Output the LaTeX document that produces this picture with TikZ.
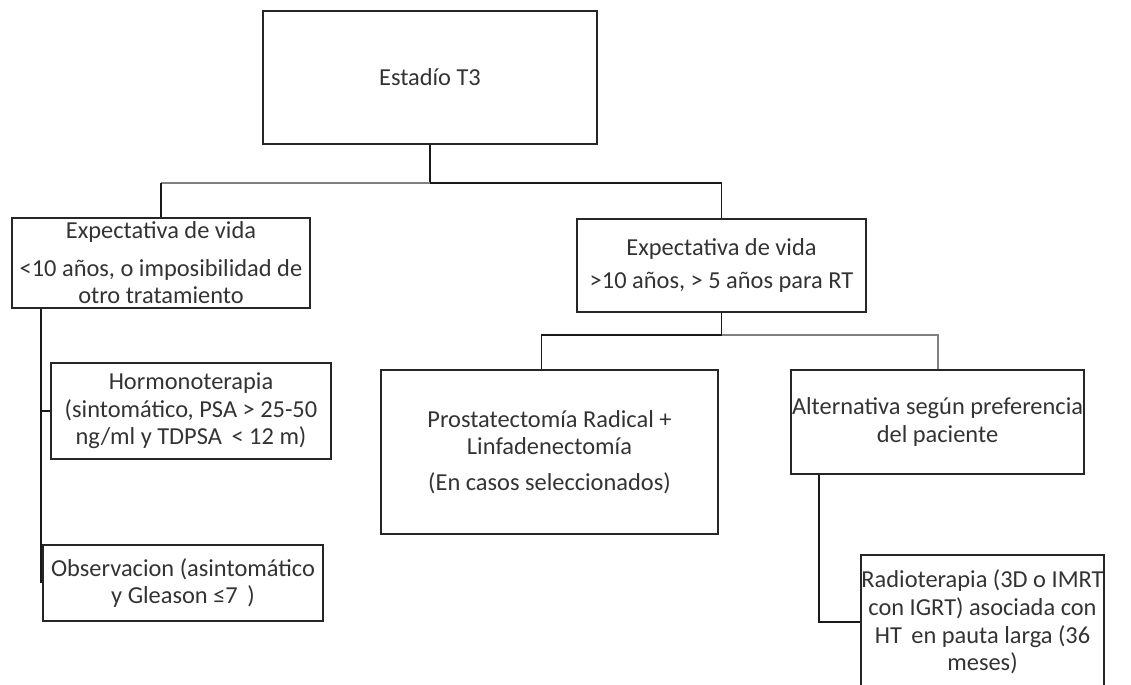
\documentclass[tikz,border=0pt]{standalone}
\usepackage{fontspec}
\setmainfont{Carlito}
\usepackage{tikz}
\tikzstyle{box}=[draw=black!85,line width=1pt,inner sep=0.5pt,align=center,text=black!80,font=\fontsize{12.2}{13.8}\selectfont]
\tikzstyle{link}=[draw=black!90,line width=0.9pt]
\tikzstyle{greylink}=[draw=black!50,line width=1pt]

\begin{document}
\begin{tikzpicture}[x=0.5pt,y=-0.5pt]
    \useasboundingbox (0,0) rectangle (1131,685);
    \node[box,minimum width=167pt,minimum height=66.5pt] (t3) at (430,77.5) {Estadío T3};
    \node[box,minimum width=149pt,minimum height=45pt] (vidaA) at (161,263)
        {Expectativa de vida\\[5pt] <10 años, o imposibilidad de\\ otro tratamiento};
    \node[box,minimum width=144.5pt,minimum height=46.5pt] (vidaB) at (721.5,265.5)
        {Expectativa de vida\\[2.5pt] >10 años, > 5 años para RT};
%    left branch
    \node[box,minimum width=140pt,minimum height=48pt] (hormo) at (191,411)
        {Hormonoterapia\\ (sintomático, PSA > 25-50\\ ng/ml y TDPSA \,< 12 m)};
    \node[box,minimum width=140pt,minimum height=38pt] (obs) at (183,583)
        {Observacion (asintomático\\ y Gleason ≤7 \,)};
%    right branch
    \node[box,minimum width=168.5pt,minimum height=82pt] (prost) at (549.5,452)
        {Prostatectomía Radical +\\ Linfadenectomía\\[4pt] (En casos seleccionados)};
    \node[box,minimum width=143.5pt,minimum height=52pt] (alt) at (937.5,422)
        {Alternativa según preferencia\\ del paciente};
    \node[box,minimum width=119.5pt,minimum height=67pt,inner sep=0pt] (radio) at (982.5,622)
        {Radioterapia (3D o IMRT\\ con IGRT) asociada con\\ HT \,en pauta larga (36\\ meses)};

    \draw[link] (t3.south) -- ++(0,38) coordinate (bus);
    \draw[greylink] (bus) -- (bus -| vidaA.north);
    \draw[link] (bus -| vidaA.north) -- (vidaA.north);
    \draw[link] (bus) -| (vidaB.north);

    \draw[link] (vidaB.south) -- ++(0,22) coordinate (bus2);
    \draw[link] (bus2) -| ([xshift=-4pt]prost.north);
    \draw[greylink] (bus2) -| (alt.north);

    \coordinate (trunk) at ([xshift=15pt]vidaA.south west);
    \draw[link] (trunk) -- (trunk |- obs.west);
    \draw[link] (trunk |- hormo.west) -- (hormo.west);

    \draw[link] ([xshift=14.5pt]alt.south west) |- (radio.west);
\end{tikzpicture}
\end{document}
